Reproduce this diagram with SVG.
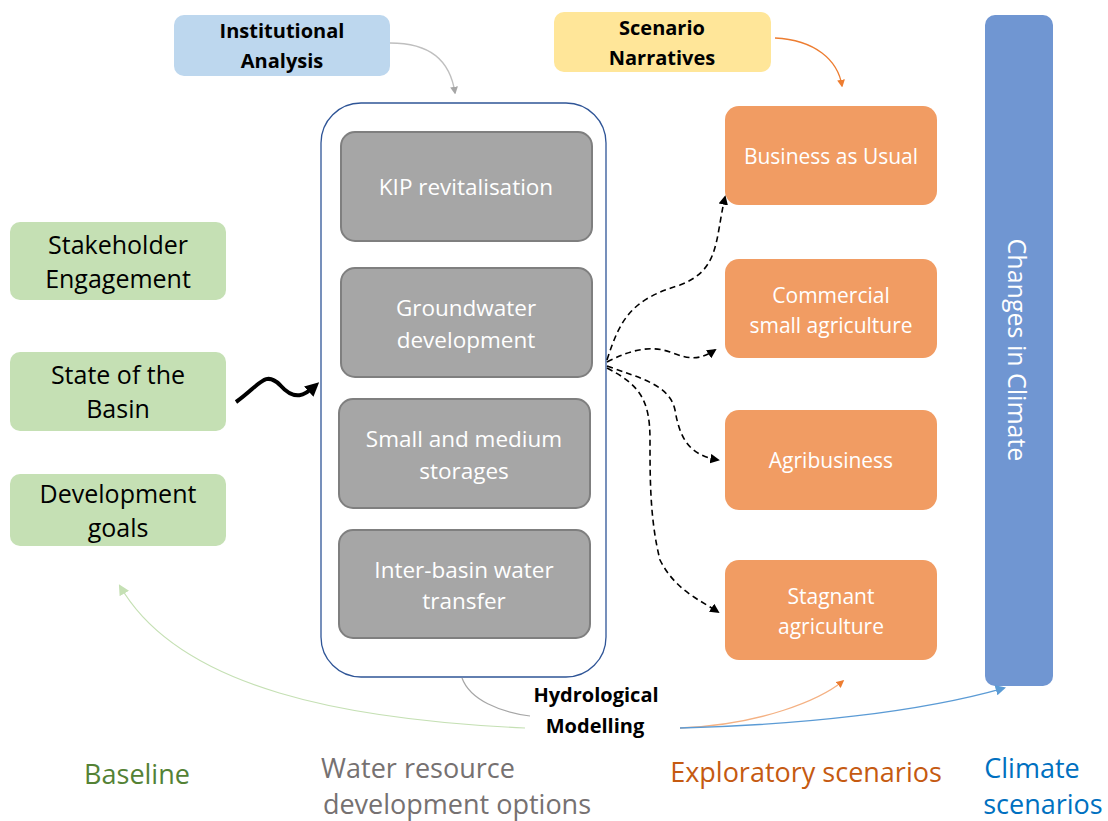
<svg xmlns="http://www.w3.org/2000/svg" width="1108" height="821" viewBox="0 0 1108 821">
<style>
text{font-family:"Open Sans","Noto Sans","Liberation Sans",sans-serif;text-anchor:middle}
.b{font-weight:bold;font-size:20px;fill:#000}
.g{fill:#a6a6a6;stroke:#7f7f7f;stroke-width:2}
.gt{fill:#fff;font-size:22.5px}
.o{fill:#f19c63}
.ot{fill:#fff;font-size:21px}
.gr{fill:#c5e0b4}
.grt{fill:#000;font-size:25px}
.dash{fill:none;stroke:#000;stroke-width:1.6;stroke-dasharray:6 4}
.lab{font-size:27px}
</style>
<defs>
<marker id="ab" viewBox="0 0 10 10" refX="8" refY="5" markerWidth="6" markerHeight="6" orient="auto"><path d="M0,0L10,5L0,10z" fill="#000"/></marker>
<marker id="ag" viewBox="0 0 10 10" refX="8" refY="5" markerWidth="6" markerHeight="6" orient="auto"><path d="M0,0L10,5L0,10z" fill="#a6a6a6"/></marker>
<marker id="ao" viewBox="0 0 10 10" refX="8" refY="5" markerWidth="6" markerHeight="6" orient="auto"><path d="M0,0L10,5L0,10z" fill="#ed7d31"/></marker>
<marker id="agr" viewBox="0 0 10 10" refX="8" refY="5" markerWidth="9" markerHeight="9" orient="auto"><path d="M0,0L10,5L0,10z" fill="#c5e0b4"/></marker>
<marker id="abl" viewBox="0 0 10 10" refX="8" refY="5" markerWidth="8" markerHeight="8" orient="auto"><path d="M0,0L10,5L0,10z" fill="#5b9bd5"/></marker>
<marker id="asq" viewBox="0 0 10 10" refX="6" refY="5" markerWidth="3.5" markerHeight="3.5" orient="auto"><path d="M0,0L10,5L0,10z" fill="#000"/></marker>
</defs>

<g id="institutional">
<rect x="174" y="15" width="216" height="61" rx="10" fill="#bdd7ee"/>
<text class="b" x="282" y="38">Institutional</text>
<text class="b" x="282" y="68">Analysis</text>
</g>
<g id="scenario-narratives">
<rect x="554" y="12" width="217" height="60" rx="10" fill="#ffe699"/>
<text class="b" x="662" y="35">Scenario</text>
<text class="b" x="662" y="65">Narratives</text>
</g>

<g id="options">
<rect x="321" y="103" width="285" height="574" rx="40" fill="#fff" stroke="#2f5597" stroke-width="1.3"/>
<rect class="g" x="341" y="132" width="251" height="109" rx="14"/>
<text class="gt" x="466" y="195">KIP revitalisation</text>
<rect class="g" x="341" y="268" width="251" height="109" rx="14"/>
<text class="gt" x="466" y="316">Groundwater</text>
<text class="gt" x="466" y="348">development</text>
<rect class="g" x="339" y="399" width="251" height="109" rx="14"/>
<text class="gt" x="464" y="447">Small and medium</text>
<text class="gt" x="464" y="479">storages</text>
<rect class="g" x="339" y="530" width="251" height="108" rx="14"/>
<text class="gt" x="464" y="578">Inter-basin water</text>
<text class="gt" x="464" y="609">transfer</text>
</g>

<g id="bau"><rect class="o" x="725" y="106" width="212" height="99" rx="14"/><text class="ot" x="831" y="164">Business as Usual</text></g>
<g id="commercial"><rect class="o" x="725" y="259" width="212" height="99" rx="14"/><text class="ot" x="831" y="303">Commercial</text><text class="ot" x="831" y="333">small agriculture</text></g>
<g id="agribusiness"><rect class="o" x="725" y="410" width="212" height="100" rx="14"/><text class="ot" x="831" y="468">Agribusiness</text></g>
<g id="stagnant"><rect class="o" x="725" y="560" width="212" height="100" rx="14"/><text class="ot" x="831" y="604">Stagnant</text><text class="ot" x="831" y="634">agriculture</text></g>

<g id="climate">
<rect x="985" y="15" width="68" height="671" rx="10" fill="#7096d2"/>
<text x="1018" y="350" fill="#fff" font-size="25" transform="rotate(90 1018 350)" dominant-baseline="central">Changes in Climate</text>
</g>

<g id="stakeholder"><rect class="gr" x="10" y="222" width="216" height="78" rx="10"/><text class="grt" x="118" y="254">Stakeholder</text><text class="grt" x="118" y="288">Engagement</text></g>
<g id="state"><rect class="gr" x="10" y="352" width="216" height="79" rx="10"/><text class="grt" x="118" y="384">State of the</text><text class="grt" x="118" y="418">Basin</text></g>
<g id="goals"><rect class="gr" x="10" y="474" width="216" height="72" rx="10"/><text class="grt" x="118" y="503">Development</text><text class="grt" x="118" y="537">goals</text></g>

<g id="hydro">
<text class="b" x="596" y="702" font-size="21">Hydrological</text>
<text class="b" x="595" y="733" font-size="21">Modelling</text>
</g>

<g id="labels">
<text class="lab" x="137" y="784" fill="#548235">Baseline</text>
<text class="lab" x="418" y="778" fill="#767171">Water resource</text>
<text class="lab" x="457" y="814" fill="#767171">development options</text>
<text class="lab" x="806" y="782" fill="#c55a11">Exploratory scenarios</text>
<text class="lab" x="1032" y="778" fill="#0070c0">Climate</text>
<text class="lab" x="1043" y="814" fill="#0070c0">scenarios</text>
</g>

<g id="connectors">
<path d="M390,43 C430,43 450,60 455,93" fill="none" stroke="#bfbfbf" stroke-width="1.3" marker-end="url(#ag)"/>
<path d="M775,38 C815,40 838,60 842,86" fill="none" stroke="#ed7d31" stroke-width="1.3" marker-end="url(#ao)"/>
<path d="M236,402 C260,385 265,370 280,385 C295,402 305,395 315,386" fill="none" stroke="#000" stroke-width="4" marker-end="url(#asq)"/>
<path class="dash" d="M607,360 C620,320 630,300 680,285 C720,270 715,240 725,197" marker-end="url(#ab)"/>
<path class="dash" d="M607,362 C630,350 650,345 670,352 C690,360 700,360 715,350" marker-end="url(#ab)"/>
<path class="dash" d="M607,366 C640,378 670,385 675,410 C680,440 690,455 718,460" marker-end="url(#ab)"/>
<path class="dash" d="M607,368 C640,385 650,400 650,440 C650,480 650,520 660,560 C675,590 700,600 718,612" marker-end="url(#ab)"/>
<path d="M462,678 C470,700 500,712 530,716" fill="none" stroke="#a6a6a6" stroke-width="1.2"/>
<path d="M525,728 C350,720 180,690 120,586" fill="none" stroke="#c5e0b4" stroke-width="1.2" marker-end="url(#agr)"/>
<path d="M680,728 C760,725 820,700 843,681" fill="none" stroke="#f4b183" stroke-width="1.3" marker-end="url(#ao)"/>
<path d="M680,728 C800,725 920,712 1004,688" fill="none" stroke="#5b9bd5" stroke-width="1.3" marker-end="url(#abl)"/>
</g>
</svg>
